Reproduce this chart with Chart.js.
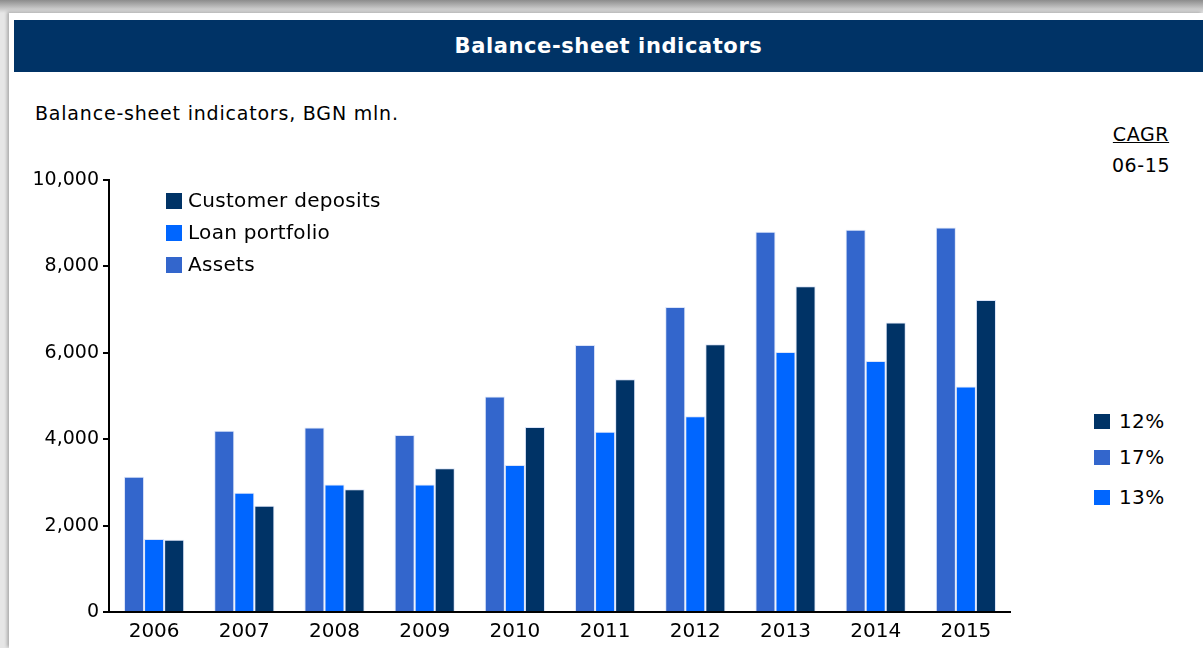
<!DOCTYPE html>
<html>
<head>
<meta charset="utf-8">
<script src="https://cdn.jsdelivr.net/npm/chart.js@4/dist/chart.umd.min.js"></script>
<style>
    body { margin: 0; width: 1203px; height: 648px; overflow: hidden; font-family: "DejaVu Sans", Verdana, sans-serif; background: #9c9c9c; }
    #frame { position: absolute; left: 0; top: 0; width: 1203px; height: 648px;
        background: linear-gradient(to bottom, #8c8c8c 0px, #c4c4c4 8px, #e6e6e6 13px); }
    #panel { position: absolute; left: 9px; top: 13px; width: 1194px; height: 635px; background: #fff;
        box-shadow: -2px -1px 3px rgba(0,0,0,0.25); }
    #header { position: absolute; left: 14px; top: 20px; width: 1189px; height: 52px; background: #003366;
        color: #fff; font-weight: bold; font-size: 21px; letter-spacing: 0.6px; line-height: 52px; text-align: center; }
    #subtitle { position: absolute; left: 35px; top: 102px; font-size: 19px; letter-spacing: 0.8px; color: #000; }
    #cagr { position: absolute; left: 1100px; top: 119px; width: 82px; text-align: center; font-size: 19px; letter-spacing: 0.6px; line-height: 31px; color: #000; }
    #cagr u { text-decoration: underline; }
    .rate { position: absolute; left: 1094px; font-size: 20px; letter-spacing: 0.4px; color: #000; }
    .rate span.box { display: inline-block; width: 16px; height: 15px; margin-right: 9px; vertical-align: -1px; }
    #chartBox { position: absolute; left: 9px; top: 160px; width: 1002px; height: 484px; }
</style>
</head>
<body>
<div id="frame"></div>
<div id="panel"></div>
<div id="header">Balance-sheet indicators</div>
<div id="subtitle">Balance-sheet indicators, BGN mln.</div>
<div id="cagr"><u>CAGR</u><br>06-15</div>
<div id="rates"></div>
<div id="chartBox"><canvas id="bars"></canvas></div>

<script>
var years = ['2006', '2007', '2008', '2009', '2010', '2011', '2012', '2013', '2014', '2015'];
// BGN mln
var assets = [3130, 4195, 4270, 4100, 4990, 6180, 7060, 8800, 8850, 8900];
var loanPortfolio = [1690, 2760, 2950, 2950, 3400, 4170, 4530, 6020, 5810, 5220];
var customerDeposits = [1670, 2460, 2840, 3330, 4280, 5390, 6200, 7540, 6700, 7220];

var cagrLabels = ['12%', '17%', '13%'];
var cagrColors = ['#003366', '#3366CC', '#0066FF'];
var cagrTops = [409, 445, 485];

// CAGR box on the right
var ratesDiv = document.getElementById('rates');
cagrLabels.forEach(function(lbl, i) {
    var d = document.createElement('div');
    d.className = 'rate';
    d.style.top = cagrTops[i] + 'px';
    d.innerHTML = '<span class="box" style="background:' + cagrColors[i] + '"></span>' + lbl;
    ratesDiv.appendChild(d);
});

// legend drawn inside the plot, reversed order like the original
var insideLegend = {
    id: 'insideLegend',
    afterDraw: function(chart) {
        var ctx = chart.ctx;
        var sets = chart.data.datasets.slice().reverse();
        ctx.save();
        ctx.font = '20px "DejaVu Sans"';
        ctx.letterSpacing = '0.3px';
        ctx.textBaseline = 'middle';
        sets.forEach(function(ds, i) {
            var y = chart.chartArea.top + 21 + i * 32;
            var x = chart.chartArea.left + 57;
            ctx.fillStyle = ds.backgroundColor;
            ctx.fillRect(x, y - 8, 16, 16);
            ctx.fillStyle = '#000';
            ctx.fillText(ds.label, x + 22, y + 1);
        });
        ctx.restore();
    }
};

var ctx = document.getElementById('bars');
new Chart(ctx, {
    type: 'bar',
    data: {
        labels: years,
        datasets: [
            { label: 'Assets', data: assets, backgroundColor: '#3366CC' },
            { label: 'Loan portfolio', data: loanPortfolio, backgroundColor: '#0066FF' },
            { label: 'Customer deposits', data: customerDeposits, backgroundColor: '#003366' }
        ]
    },
    options: {
        responsive: true,
        maintainAspectRatio: false,
        animation: false,
        datasets: {
            bar: { categoryPercentage: 0.667, barPercentage: 1.0, borderWidth: 1, borderColor: 'rgba(215,225,248,0.9)' }
        },
        layout: { padding: { top: 20, right: 0, left: 0, bottom: 0 } },
        plugins: {
            legend: { display: false },
            tooltip: { enabled: false }
        },
        scales: {
            x: {
                grid: { display: false },
                border: { color: '#000', width: 2 },
                ticks: { color: '#000', font: { family: 'DejaVu Sans', size: 20 }, padding: 0 }
            },
            y: {
                min: 0,
                max: 10000,
                afterFit: function(scale) { scale.width = 100; },
                grid: { drawOnChartArea: false, tickLength: 6, color: '#000', lineWidth: 2 },
                border: { color: '#000', width: 2 },
                ticks: {
                    stepSize: 2000,
                    color: '#000',
                    padding: 4,
                    font: { family: 'DejaVu Sans', size: 19 },
                    callback: function(v) { return v.toLocaleString('en-US'); }
                }
            }
        }
    },
    plugins: [insideLegend]
});
</script>
</body>
</html>
